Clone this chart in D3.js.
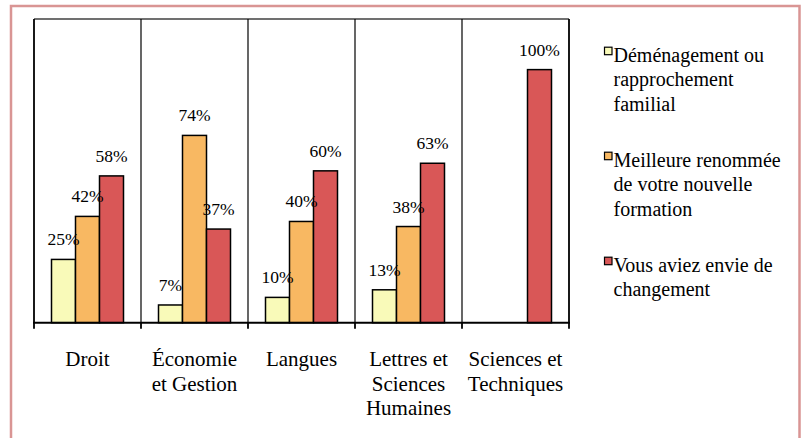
<!DOCTYPE html>
<html>
<head>
<meta charset="utf-8">
<script src="https://cdn.jsdelivr.net/npm/d3@7"></script>
<style>
  body { margin: 0; background: #fff; }
</style>
</head>
<body>
<script>
// categories (x axis), each one wrapped in lines
var categories = ["Droit", "Économie et Gestion", "Langues", "Lettres et Sciences Humaines", "Sciences et Techniques"];
var categoryLines = [
  ["Droit"],
  ["Économie", "et Gestion"],
  ["Langues"],
  ["Lettres et", "Sciences", "Humaines"],
  ["Sciences et", "Techniques"]
];

// series
var seriesNames = ["Déménagement ou rapprochement familial", "Meilleure renommée de votre nouvelle formation", "Vous aviez envie de changement"];
var legendLines = [
  ["Déménagement ou", "rapprochement", "familial"],
  ["Meilleure renommée", "de votre nouvelle", "formation"],
  ["Vous aviez envie de", "changement"]
];
var demenagement = [0.25, 0.07, 0.10, 0.13, null];
var renommee     = [0.42, 0.74, 0.40, 0.38, null];
var changement   = [0.58, 0.37, 0.60, 0.63, 1.00];
var seriesValues = [demenagement, renommee, changement];

var colors = ["#F9FAB9", "#F8B862", "#D95757"];
var serif = "Liberation Serif";

var W = 805, H = 438;
var svg = d3.select("body").append("svg")
  .attr("width", W)
  .attr("height", H);

// outer pink frame
svg.append("rect")
  .attr("x", 11).attr("y", 6)
  .attr("width", 788.5).attr("height", 440)
  .attr("fill", "none")
  .attr("stroke", "#D99594")
  .attr("stroke-width", 2.5);

var pLeft = 34, pRight = 569, pTop = 19, pBottom = 322.7;

var x0 = d3.scaleBand()
  .domain(categories)
  .range([pLeft, pRight])
  .paddingInner(0).paddingOuter(0);

var bw = x0.bandwidth();
var groupW = bw * 72 / 107;
var x1 = d3.scaleBand()
  .domain(d3.range(seriesNames.length))
  .range([(bw - groupW) / 2, (bw + groupW) / 2])
  .padding(0);

var y = d3.scaleLinear()
  .domain([0, 1.2])
  .range([pBottom, pTop]);

// plot frame: top line and category separators
svg.append("line")
  .attr("x1", pLeft).attr("x2", pRight)
  .attr("y1", pTop).attr("y2", pTop)
  .attr("stroke", "#404040").attr("stroke-width", 1.5);
var seps = [pLeft].concat(categories.map(function(c) { return x0(c) + bw; }));
svg.selectAll("line.sep")
  .data(seps)
  .enter()
  .append("line")
  .attr("class", "sep")
  .attr("x1", function(d) { return d; })
  .attr("x2", function(d) { return d; })
  .attr("y1", pTop)
  .attr("y2", pBottom)
  .attr("stroke", "#000")
  .attr("stroke-width", function(d, i) { return (i === 0 || i === seps.length - 1) ? 1.8 : 1.2; });

// bars
var flat = [];
categories.forEach(function(c, ci) {
  seriesValues.forEach(function(vals, si) {
    if (vals[ci] !== null) flat.push({cat: c, s: si, v: vals[ci]});
  });
});

svg.selectAll("rect.bar")
  .data(flat)
  .enter()
  .append("rect")
  .attr("class", "bar")
  .attr("x", function(d) { return x0(d.cat) + x1(d.s); })
  .attr("y", function(d) { return y(d.v); })
  .attr("width", x1.bandwidth())
  .attr("height", function(d) { return y(0) - y(d.v); })
  .attr("fill", function(d) { return colors[d.s]; })
  .attr("stroke", "#000")
  .attr("stroke-width", 1.5);

// value labels
svg.selectAll("text.val")
  .data(flat)
  .enter()
  .append("text")
  .attr("class", "val")
  .attr("x", function(d) { return x0(d.cat) + x1(d.s) + x1.bandwidth() / 2; })
  .attr("y", function(d) { return y(d.v) - 14; })
  .attr("text-anchor", "middle")
  .style("font-family", serif)
  .style("font-size", "17.5px")
  .text(function(d) { return Math.round(d.v * 100) + "%"; });

// baseline + ticks
svg.append("line")
  .attr("x1", pLeft - 1).attr("x2", pRight + 1)
  .attr("y1", pBottom).attr("y2", pBottom)
  .attr("stroke", "#000").attr("stroke-width", 2);
svg.selectAll("line.tick")
  .data(seps)
  .enter()
  .append("line")
  .attr("class", "tick")
  .attr("x1", function(d) { return d; })
  .attr("x2", function(d) { return d; })
  .attr("y1", pBottom)
  .attr("y2", pBottom + 6)
  .attr("stroke", "#000")
  .attr("stroke-width", 1.8);

// category labels
var catText = svg.selectAll("text.cat")
  .data(categories)
  .enter()
  .append("text")
  .attr("class", "cat")
  .attr("text-anchor", "middle")
  .attr("x", function(d) { return x0(d) + bw / 2; })
  .attr("y", 366)
  .style("font-family", serif)
  .style("font-size", "21px");
catText.selectAll("tspan")
  .data(function(d, i) { return categoryLines[i]; })
  .enter()
  .append("tspan")
  .attr("x", function() { return d3.select(this.parentNode).attr("x"); })
  .attr("dy", function(d, i) { return i === 0 ? 0 : 24.5; })
  .text(function(d) { return d; });

// legend
var lg = svg.selectAll("g.legend")
  .data(seriesNames)
  .enter()
  .append("g")
  .attr("class", "legend")
  .attr("transform", function(d, i) { return "translate(0," + (61.7 + i * 105) + ")"; });
lg.append("rect")
  .attr("x", 604.5)
  .attr("y", -14.5)
  .attr("width", 7.5)
  .attr("height", 7.5)
  .attr("fill", function(d, i) { return colors[i]; })
  .attr("stroke", "#000")
  .attr("stroke-width", 1.2);
var lt = lg.append("text")
  .attr("x", 613.5)
  .attr("y", 0)
  .style("font-family", serif)
  .style("font-size", "20px");
lt.selectAll("tspan")
  .data(function(d, i) { return legendLines[i]; })
  .enter()
  .append("tspan")
  .attr("x", 613.5)
  .attr("dy", function(d, i) { return i === 0 ? 0 : 24.5; })
  .text(function(d) { return d; });
</script>
</body>
</html>
